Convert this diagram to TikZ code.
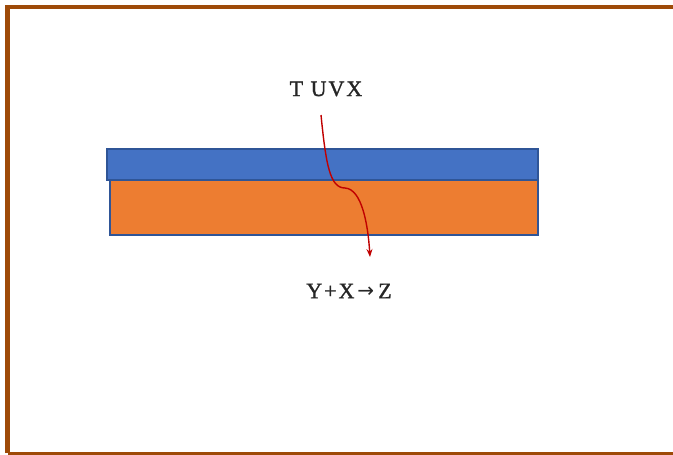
\documentclass[tikz,border=0pt]{standalone}
\usepackage{fontspec}
\setmainfont{Liberation Serif}
\newfontfamily\symfont{DejaVu Sans}
\usetikzlibrary{arrows.meta}
\definecolor{frame}{RGB}{158,74,8}
\definecolor{topblue}{RGB}{68,114,196}
\definecolor{botorange}{RGB}{237,125,49}
\definecolor{edgeblue}{RGB}{47,85,151}
\definecolor{arrowred}{RGB}{192,0,0}
\tikzset{
  layer/.style={draw=edgeblue, line width=1.2pt},
  lbl/.style={font=\fontsize{22}{26}\selectfont\addfontfeatures{LetterSpace=9,FakeBold=1.2}, text=black!85, inner sep=0pt},
  flow/.style={draw=arrowred, line width=1.4pt, -{Stealth[length=8pt,width=6pt]}}
}
\begin{document}
\begin{tikzpicture}[x=1pt,y=-1pt]
\useasboundingbox (0,0) rectangle (673,455);
\fill[white] (0,0) rectangle (673,455);
% frame
\draw[frame, line width=4.5pt] (7.5,453) -- (7.5,7) -- (673,7);
\draw[frame, line width=2.5pt] (7.5,453.5) -- (673,453.5);
% layers
\draw[layer, fill=botorange] (110,180) rectangle (538,235);
\draw[layer, fill=topblue] (107,149) rectangle (538,180);
% labels
\node[lbl] (top) at (326,89) {T UVX};
\node[lbl] (bot) at (349,291) {Y+X\hspace{3pt}{\symfont\fontsize{20}{22}\selectfont\raisebox{1pt}{→}}\hspace{4pt}Z};
% arrow
\coordinate (s) at (321,115);
\coordinate (k) at (345,188);
\coordinate (e) at (370,257);
\draw[flow] (s) .. controls (326,165) and (330,188) .. (k) .. controls (362,189) and (368,225) .. (e);
\end{tikzpicture}
\end{document}
